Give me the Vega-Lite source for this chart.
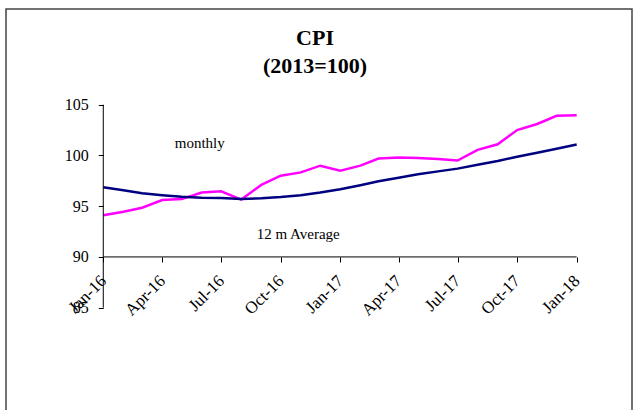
{
  "$schema": "https://vega.github.io/schema/vega-lite/v6.json",
  "autosize": {"type": "none"},
  "padding": {"left": 6, "top": 9, "right": 3, "bottom": 0},
  "width": 626,
  "height": 410,
  "background": "white",
  "config": {
    "view": {"stroke": "#444", "strokeWidth": 1.5},
    "font": "Liberation Serif",
    "axis": {"labelFont": "Liberation Serif", "labelColor": "black", "tickColor": "black", "tickWidth": 1, "tickSize": 5, "domain": false, "grid": false, "title": null, "labelOverlap": false, "labelFlush": false},
    "axisX": {"labelAngle": -45, "labelAlign": "right", "labelBaseline": "middle", "labelPadding": 16, "labelFontSize": 17},
    "axisY": {"labelPadding": 10, "labelFontSize": 16}
  },
  "title": {"text": ["CPI", "(2013=100)"], "fontSize": 22, "fontWeight": "bold", "font": "Liberation Serif", "color": "black", "anchor": "middle", "frame": "group", "offset": -69, "lineHeight": 28, "dx": -4},
  "layer": [
    {
      "data": {"values": [
        {"date": "2016-01-01", "series": "monthly", "value": 94.1},
        {"date": "2016-02-01", "series": "monthly", "value": 94.45},
        {"date": "2016-03-01", "series": "monthly", "value": 94.85},
        {"date": "2016-04-01", "series": "monthly", "value": 95.6},
        {"date": "2016-05-01", "series": "monthly", "value": 95.7},
        {"date": "2016-06-01", "series": "monthly", "value": 96.35},
        {"date": "2016-07-01", "series": "monthly", "value": 96.47},
        {"date": "2016-08-01", "series": "monthly", "value": 95.65},
        {"date": "2016-09-01", "series": "monthly", "value": 97.1},
        {"date": "2016-10-01", "series": "monthly", "value": 98.0},
        {"date": "2016-11-01", "series": "monthly", "value": 98.33},
        {"date": "2016-12-01", "series": "monthly", "value": 98.99},
        {"date": "2017-01-01", "series": "monthly", "value": 98.5},
        {"date": "2017-02-01", "series": "monthly", "value": 99.0},
        {"date": "2017-03-01", "series": "monthly", "value": 99.7},
        {"date": "2017-04-01", "series": "monthly", "value": 99.8},
        {"date": "2017-05-01", "series": "monthly", "value": 99.75},
        {"date": "2017-06-01", "series": "monthly", "value": 99.65},
        {"date": "2017-07-01", "series": "monthly", "value": 99.5},
        {"date": "2017-08-01", "series": "monthly", "value": 100.55},
        {"date": "2017-09-01", "series": "monthly", "value": 101.1},
        {"date": "2017-10-01", "series": "monthly", "value": 102.5},
        {"date": "2017-11-01", "series": "monthly", "value": 103.1},
        {"date": "2017-12-01", "series": "monthly", "value": 103.9},
        {"date": "2018-01-01", "series": "monthly", "value": 103.95},
        {"date": "2016-01-01", "series": "12 m Average", "value": 96.86},
        {"date": "2016-02-01", "series": "12 m Average", "value": 96.57},
        {"date": "2016-03-01", "series": "12 m Average", "value": 96.27},
        {"date": "2016-04-01", "series": "12 m Average", "value": 96.08},
        {"date": "2016-05-01", "series": "12 m Average", "value": 95.92},
        {"date": "2016-06-01", "series": "12 m Average", "value": 95.82},
        {"date": "2016-07-01", "series": "12 m Average", "value": 95.8},
        {"date": "2016-08-01", "series": "12 m Average", "value": 95.72},
        {"date": "2016-09-01", "series": "12 m Average", "value": 95.78},
        {"date": "2016-10-01", "series": "12 m Average", "value": 95.9},
        {"date": "2016-11-01", "series": "12 m Average", "value": 96.08},
        {"date": "2016-12-01", "series": "12 m Average", "value": 96.34},
        {"date": "2017-01-01", "series": "12 m Average", "value": 96.67},
        {"date": "2017-02-01", "series": "12 m Average", "value": 97.06},
        {"date": "2017-03-01", "series": "12 m Average", "value": 97.45},
        {"date": "2017-04-01", "series": "12 m Average", "value": 97.81},
        {"date": "2017-05-01", "series": "12 m Average", "value": 98.14},
        {"date": "2017-06-01", "series": "12 m Average", "value": 98.43},
        {"date": "2017-07-01", "series": "12 m Average", "value": 98.7},
        {"date": "2017-08-01", "series": "12 m Average", "value": 99.09},
        {"date": "2017-09-01", "series": "12 m Average", "value": 99.45},
        {"date": "2017-10-01", "series": "12 m Average", "value": 99.87},
        {"date": "2017-11-01", "series": "12 m Average", "value": 100.26},
        {"date": "2017-12-01", "series": "12 m Average", "value": 100.65},
        {"date": "2018-01-01", "series": "12 m Average", "value": 101.08}
      ]},
      "mark": {"type": "line", "strokeWidth": 2.5},
      "encoding": {
        "x": {
          "field": "date", "type": "temporal",
          "scale": {"type": "utc", "domain": [{"year": 2015, "month": 8, "date": 3, "hours": 19, "utc": true}, {"year": 2018, "month": 3, "date": 27, "hours": 10, "utc": true}], "nice": false},
          "axis": {"values": [
            {"year": 2016, "month": 1, "date": 1, "utc": true},
            {"year": 2016, "month": 4, "date": 1, "utc": true},
            {"year": 2016, "month": 7, "date": 1, "utc": true},
            {"year": 2016, "month": 10, "date": 1, "utc": true},
            {"year": 2017, "month": 1, "date": 1, "utc": true},
            {"year": 2017, "month": 4, "date": 1, "utc": true},
            {"year": 2017, "month": 7, "date": 1, "utc": true},
            {"year": 2017, "month": 10, "date": 1, "utc": true},
            {"year": 2018, "month": 1, "date": 1, "utc": true}
          ], "format": "%b-%y", "offset": -162, "labelFontSize": 17, "labelAngle": -45, "labelPadding": 16}
        },
        "y": {
          "field": "value", "type": "quantitative",
          "scale": {"domain": [74.03, 114.43], "nice": false, "zero": false},
          "axis": {"values": [85, 90, 95, 100, 105], "offset": -97.3, "labelFontSize": 16}
        },
        "color": {"field": "series", "type": "nominal", "scale": {"domain": ["monthly", "12 m Average"], "range": ["#FF00FF", "#000080"]}, "legend": null}
      }
    },
    {
      "data": {"values": [{"date": "2016-01-01", "low": 85, "high": 105}]},
      "mark": {"type": "rule", "color": "black", "strokeWidth": 1},
      "encoding": {
        "x": {"field": "date", "type": "temporal"},
        "y": {"field": "low", "type": "quantitative"},
        "y2": {"field": "high"}
      }
    },
    {
      "data": {"values": [{"start": "2016-01-01", "end": "2018-01-01", "level": 90}]},
      "mark": {"type": "rule", "color": "black", "strokeWidth": 1},
      "encoding": {
        "x": {"field": "start", "type": "temporal"},
        "x2": {"field": "end"},
        "y": {"field": "level", "type": "quantitative"}
      }
    },
    {
      "data": {"values": [
        {"date": "2016-05-29", "value": 101.2, "label": "monthly"},
        {"date": "2016-10-28", "value": 92.23, "label": "12 m Average"}
      ]},
      "mark": {"type": "text", "font": "Liberation Serif", "fontSize": 15, "color": "black", "align": "center", "baseline": "middle"},
      "encoding": {
        "x": {"field": "date", "type": "temporal"},
        "y": {"field": "value", "type": "quantitative"},
        "text": {"field": "label"}
      }
    }
  ]
}
